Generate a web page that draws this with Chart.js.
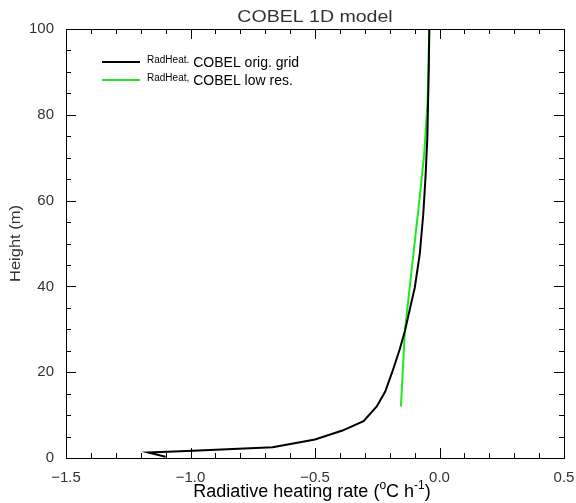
<!DOCTYPE html>
<html>
<head>
<meta charset="utf-8">
<script src="https://cdn.jsdelivr.net/npm/chart.js@4/dist/chart.umd.min.js"></script>
<style>
  html, body { margin: 0; padding: 0; background: #fff; }
  #wrap { width: 576px; height: 503px; position: relative; }
</style>
</head>
<body>
<div id="wrap"><canvas id="chart" width="576" height="503"></canvas></div>
<script>
// data
const origHeight = [0.3, 1.3, 1.7, 2.5, 4.3, 6.4, 8.6, 12, 15.5, 20, 25.3, 29.6, 34.7, 39.8, 47.7, 57, 65.7, 74.4, 90.8, 100];
const origRate = [-1.10, -1.17, -0.99, -0.67, -0.50, -0.39, -0.305, -0.252, -0.218, -0.19, -0.16, -0.139, -0.119, -0.099, -0.079, -0.065, -0.056, -0.049, -0.043, -0.041];
const lowHeight = [12, 29.6, 43.8, 61, 71.2, 83, 100];
const lowRate = [-0.155, -0.139, -0.112, -0.079, -0.061, -0.048, -0.041];
const xTicks = [-1.5, -1.0, -0.5, 0.0, 0.5];
const yTicks = [0, 20, 40, 60, 80, 100];

const toPoints = (xs, ys) => xs.map((x, i) => ({ x: x, y: ys[i] }));
const fmt = (v) => v.toFixed(1).replace('-', '\u2212');
const textFont = '"Liberation Sans", Arial, sans-serif';

// inward ticks, box and all the text around the plot
const frame = {
  id: 'frame',
  afterDraw(chart) {
    const ctx = chart.ctx;
    const a = chart.chartArea;
    const xs = chart.scales.x;
    const ys = chart.scales.y;
    ctx.save();
    ctx.strokeStyle = '#000';
    ctx.lineWidth = 1;
    ctx.strokeRect(Math.round(a.left) + 0.5, Math.round(a.top) + 0.5, Math.round(a.right - a.left), Math.round(a.bottom - a.top));
    ctx.beginPath();
    for (let i = -15; i <= 5; i++) {
      const px = Math.round(xs.getPixelForValue(i / 10)) + 0.5;
      const len = i % 5 === 0 ? 10 : 5;
      ctx.moveTo(px, a.bottom); ctx.lineTo(px, a.bottom - len);
      ctx.moveTo(px, a.top); ctx.lineTo(px, a.top + len);
    }
    for (let v = 0; v <= 100; v += 5) {
      const py = Math.round(ys.getPixelForValue(v)) + 0.5;
      const len = v % 20 === 0 ? 10 : 5;
      ctx.moveTo(a.left, py); ctx.lineTo(a.left + len, py);
      ctx.moveTo(a.right, py); ctx.lineTo(a.right - len, py);
    }
    ctx.stroke();

    ctx.fillStyle = '#333';
    ctx.textBaseline = 'alphabetic';
    // title, stretched a little to look like the wide plotting font
    ctx.save();
    ctx.translate((a.left + a.right) / 2, 22);
    ctx.scale(1.15, 1);
    ctx.font = '17px ' + textFont;
    ctx.textAlign = 'center';
    ctx.fillText('COBEL 1D model', 0, 0);
    ctx.restore();

    // x axis title with superscripts
    const parts = [
      ['Radiative heating rate (', 18, 0],
      ['o', 12, -8],
      ['C h', 18, 0],
      ['-1', 12, -8],
      [')', 18, 0]
    ];
    let w = 0;
    parts.forEach((p) => { ctx.font = p[1] + 'px ' + textFont; w += ctx.measureText(p[0]).width; });
    let x = (a.left + a.right) / 2 - w / 2 - 3;
    ctx.textAlign = 'left';
    ctx.fillStyle = '#000';
    parts.forEach((p) => {
      ctx.font = p[1] + 'px ' + textFont;
      ctx.fillText(p[0], x, 497 + p[2]);
      x += ctx.measureText(p[0]).width;
    });

    // y axis title
    ctx.save();
    ctx.translate(20, (a.top + a.bottom) / 2);
    ctx.rotate(-Math.PI / 2);
    ctx.scale(1.1, 1);
    ctx.textAlign = 'center';
    ctx.font = '15px ' + textFont;
    ctx.fillStyle = '#333';
    ctx.fillText('Height (m)', 0, 0);
    ctx.restore();

    // legend
    chart.data.datasets.forEach((ds, i) => {
      const ly = 62 + i * 18;
      ctx.strokeStyle = ds.borderColor;
      ctx.lineWidth = 2;
      ctx.beginPath();
      ctx.moveTo(102, ly); ctx.lineTo(140, ly);
      ctx.stroke();
      ctx.fillStyle = '#000';
      ctx.font = '10px ' + textFont;
      ctx.fillText(ds.tag, 147, ly + 1);
      const tw = ctx.measureText(ds.tag).width;
      ctx.font = '14px ' + textFont;
      ctx.fillText(ds.label, 147 + tw + 4, ly + 5);
    });
    ctx.restore();
  }
};

new Chart(document.getElementById('chart'), {
  type: 'scatter',
  data: {
    datasets: [
      {
        label: 'COBEL orig. grid',
        tag: 'RadHeat.',
        data: toPoints(origRate, origHeight),
        showLine: true,
        borderColor: '#000000',
        borderWidth: 2,
        pointRadius: 0,
        tension: 0
      },
      {
        label: 'COBEL low res.',
        tag: 'RadHeat,',
        data: toPoints(lowRate, lowHeight),
        showLine: true,
        borderColor: '#1ee81e',
        borderWidth: 2,
        pointRadius: 0,
        tension: 0
      }
    ]
  },
  options: {
    responsive: false,
    animation: false,
    layout: { padding: { top: 29, right: 12, left: 0, bottom: 0 } },
    plugins: { legend: { display: false }, tooltip: { enabled: false } },
    scales: {
      x: {
        type: 'linear',
        min: -1.5,
        max: 0.5,
        afterBuildTicks: (s) => { s.ticks = xTicks.map((v) => ({ value: v })); },
        afterFit: (s) => { s.height = 45; s.paddingLeft = 0; s.paddingRight = 0; },
        grid: { display: false },
        border: { display: false },
        ticks: {
          color: '#333',
          padding: 3,
          font: { family: textFont, size: 15 },
          callback: (v) => fmt(v)
        }
      },
      y: {
        type: 'linear',
        min: 0,
        max: 100,
        afterBuildTicks: (s) => { s.ticks = yTicks.map((v) => ({ value: v })); },
        afterFit: (s) => { s.width = 66; s.paddingTop = 0; s.paddingBottom = 0; },
        grid: { display: false },
        border: { display: false },
        ticks: {
          color: '#333',
          padding: 4,
          font: { family: textFont, size: 15 },
          callback: (v) => String(v)
        }
      }
    }
  },
  plugins: [frame]
});
</script>
</body>
</html>
